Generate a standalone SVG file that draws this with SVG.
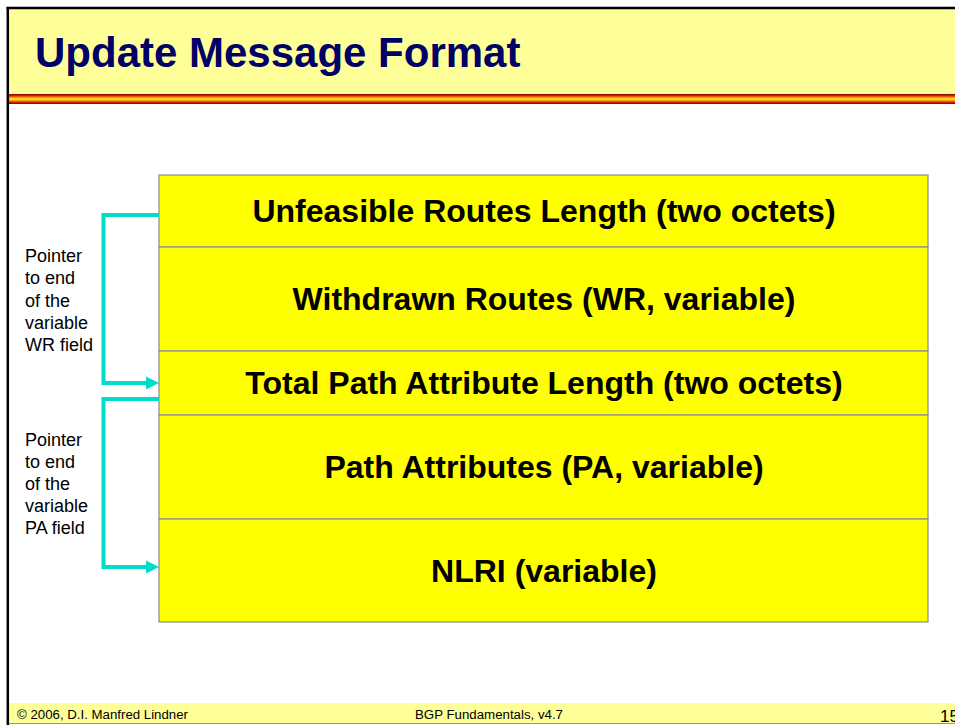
<svg xmlns="http://www.w3.org/2000/svg" width="955" height="725" viewBox="0 0 955 725">
  <style>
    .field rect { fill: #ffff00; stroke: #8c8c8c; stroke-width: 1.2; }
    .field text { font-family: "Liberation Sans", Arial, sans-serif; font-weight: bold; font-size: 32px; fill: #000; text-anchor: middle; }
    .note { font-family: "Liberation Sans", Arial, sans-serif; font-size: 18px; fill: #000; }
    .foot { font-family: "Liberation Sans", Arial, sans-serif; font-size: 12px; fill: #000; }
    .page-no { font-family: "Liberation Sans", Arial, sans-serif; font-size: 17px; fill: #000; }
    .ptr { fill: none; stroke: #00dcc8; stroke-width: 4; stroke-linejoin: miter; }
    .ptr-head { fill: #00dcc8; }
  </style>
  <defs>
    <linearGradient id="band" x1="0" y1="0" x2="0" y2="1">
      <stop offset="0" stop-color="#7a0000"/>
      <stop offset="0.18" stop-color="#e02000"/>
      <stop offset="0.35" stop-color="#ff9900"/>
      <stop offset="0.5" stop-color="#ffee33"/>
      <stop offset="0.65" stop-color="#ff9900"/>
      <stop offset="0.82" stop-color="#e02000"/>
      <stop offset="1" stop-color="#7a0000"/>
    </linearGradient>
  </defs>

  <rect x="0" y="0" width="955" height="725" fill="#ffffff"/>

  <!-- slide frame, header and footer -->
  <g id="frame">
    <rect x="8" y="8" width="960" height="87" fill="#ffff99"/>
    <rect x="8" y="94" width="960" height="10" fill="url(#band)"/>
    <rect x="8" y="703" width="960" height="21" fill="#ffff99"/>
    <line x1="8" y1="723.5" x2="955" y2="723.5" stroke="#9a9a70" stroke-width="1"/>
    <line x1="6.5" y1="8" x2="955" y2="8" stroke="#000" stroke-width="2.5"/>
    <line x1="7.8" y1="7" x2="7.8" y2="725" stroke="#000" stroke-width="2.5"/>
    <text x="35" y="67" font-family="Liberation Sans, Arial, sans-serif" font-weight="bold" font-size="42" fill="#000066">Update Message Format</text>
    <text class="foot" x="17" y="719" textLength="171" lengthAdjust="spacingAndGlyphs">© 2006, D.I. Manfred Lindner</text>
    <text class="foot" x="415" y="719" textLength="148" lengthAdjust="spacingAndGlyphs">BGP Fundamentals, v4.7</text>
    <text class="page-no" x="940" y="722">15</text>
  </g>

  <!-- message fields -->
  <g id="unfeasible-routes-length" class="field">
    <rect x="159" y="175" width="769" height="72"/>
    <text x="544" y="222">Unfeasible Routes Length (two octets)</text>
  </g>
  <g id="withdrawn-routes" class="field">
    <rect x="159" y="247" width="769" height="104"/>
    <text x="544" y="310">Withdrawn Routes (WR, variable)</text>
  </g>
  <g id="total-path-attribute-length" class="field">
    <rect x="159" y="351" width="769" height="64"/>
    <text x="544" y="394">Total Path Attribute Length (two octets)</text>
  </g>
  <g id="path-attributes" class="field">
    <rect x="159" y="415" width="769" height="104"/>
    <text x="544" y="478">Path Attributes (PA, variable)</text>
  </g>
  <g id="nlri" class="field">
    <rect x="159" y="519" width="769" height="103"/>
    <text x="544" y="582">NLRI (variable)</text>
  </g>

  <!-- length pointers -->
  <g id="connectors">
    <path class="ptr" d="M159,215 H103.5 V383 H148"/>
    <polygon class="ptr-head" points="146,376.5 159,383 146,389.5"/>
    <path class="ptr" d="M159,399 H103.5 V567 H148"/>
    <polygon class="ptr-head" points="146,560.5 159,567 146,573.5"/>
  </g>

  <g id="wr-pointer-label">
    <text class="note" x="25" y="262">Pointer</text>
    <text class="note" x="25" y="284">to end</text>
    <text class="note" x="25" y="306.5">of the</text>
    <text class="note" x="25" y="329">variable</text>
    <text class="note" x="25" y="351">WR field</text>
  </g>
  <g id="pa-pointer-label">
    <text class="note" x="25" y="446">Pointer</text>
    <text class="note" x="25" y="468">to end</text>
    <text class="note" x="25" y="490">of the</text>
    <text class="note" x="25" y="512">variable</text>
    <text class="note" x="25" y="534">PA field</text>
  </g>
</svg>
